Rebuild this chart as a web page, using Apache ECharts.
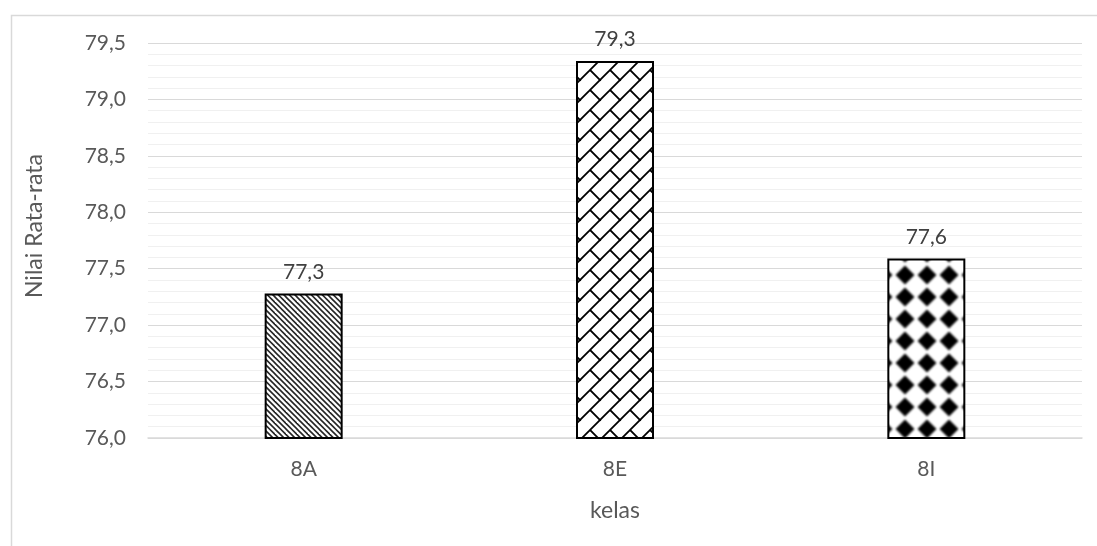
<!DOCTYPE html>
<html>
<head>
<meta charset="utf-8">
<script src="https://cdn.jsdelivr.net/npm/echarts@6/dist/echarts.min.js"></script>
<style>
  html, body { margin: 0; padding: 0; background: #ffffff; }
  #chart { width: 1097px; height: 546px; }
</style>
</head>
<body>
<div id="chart"></div>
<script>
// Class averages
const categories = ['8A', '8E', '8I'];
const averages = [77.28, 79.34, 77.59];
const yTicks = { min: 76, max: 79.5, step: 0.5 };
const xName = 'kelas';
const yName = 'Nilai Rata-rata';

const FONT = 'Lato';
const TEXT = '#595959';

function tile(size, draw) {
  const c = document.createElement('canvas');
  c.width = size; c.height = size;
  const g = c.getContext('2d');
  g.fillStyle = '#ffffff';
  g.fillRect(0, 0, size, size);
  draw(g, size);
  return { image: c, repeat: 'repeat' };
}

// "\" diagonal stripes
const stripes = tile(11, (g, s) => {
  g.strokeStyle = '#262626';
  g.lineWidth = 1.6;
  for (let k = -3; k <= 3; k++) {
    g.beginPath();
    g.moveTo(k * 5.5 - 6, -6);
    g.lineTo(k * 5.5 + s + 6, s + 6);
    g.stroke();
  }
});

// diagonal brick
const brick = tile(20, (g, s) => {
  g.strokeStyle = '#000000';
  g.lineWidth = 1.8;
  g.lineCap = 'square';
  for (const dx of [-s, 0, s]) {
    for (const dy of [-s, 0, s]) {
      g.beginPath();
      g.moveTo(dx, dy + s);
      g.lineTo(dx + s, dy);
      g.moveTo(dx + s / 2, dy + s / 2);
      g.lineTo(dx + s, dy + s);
      g.stroke();
    }
  }
});

// solid diamonds
const diamonds = tile(22, (g, s) => {
  g.fillStyle = '#000000';
  const cx = 3, cy = 11, r = 9.5;
  g.filter = 'blur(0.9px)';
  for (const dx of [-s, 0, s]) {
    for (const dy of [-s, 0, s]) {
      g.beginPath();
      g.moveTo(cx + dx, cy + dy - r);
      g.lineTo(cx + dx + r, cy + dy);
      g.lineTo(cx + dx, cy + dy + r);
      g.lineTo(cx + dx - r, cy + dy);
      g.closePath();
      g.fill();
    }
  }
});

const fills = [stripes, brick, diamonds];
const fmt = v => Number(v).toFixed(1).replace('.', ',');

const chart = echarts.init(document.getElementById('chart'), null, { renderer: 'canvas' });
chart.setOption({
  animation: false,
  backgroundColor: '#ffffff',
  textStyle: { fontFamily: FONT },
  graphic: [{
    type: 'rect',
    left: 9, top: 13,
    shape: { width: 1200, height: 700 },
    style: { fill: 'none', stroke: '#d9d9d9', lineWidth: 1.5 },
    silent: true
  }, {
    type: 'text',
    x: 35, y: 226,
    rotation: Math.PI / 2,
    style: {
      text: yName,
      fill: TEXT,
      font: '23px ' + FONT,
      align: 'center',
      verticalAlign: 'middle'
    },
    silent: true
  }],
  grid: { left: 148, right: 15, top: 43, bottom: 108 },
  xAxis: {
    type: 'category',
    data: categories,
    name: xName,
    nameLocation: 'middle',
    nameGap: 61,
    nameTextStyle: { color: TEXT, fontSize: 23, fontFamily: FONT },
    axisLine: { lineStyle: { color: '#d9d9d9', width: 1.5 } },
    axisTick: { show: false },
    axisLabel: { color: TEXT, fontSize: 21, margin: 21, fontFamily: FONT }
  },
  yAxis: {
    type: 'value',
    min: yTicks.min, max: yTicks.max, interval: yTicks.step,
    axisLine: { show: false },
    axisTick: { show: false },
    axisLabel: { color: TEXT, fontSize: 21, margin: 22, formatter: fmt, fontFamily: FONT },
    splitLine: { lineStyle: { color: '#d9d9d9', width: 1 } },
    minorTick: { show: false, splitNumber: 5 },
    minorSplitLine: { show: true, lineStyle: { color: '#f0f0f0', width: 1 } }
  },
  series: [{
    type: 'bar',
    barWidth: 78,
    data: averages.map((v, i) => ({
      value: v,
      itemStyle: { color: fills[i], borderColor: '#000000', borderWidth: 2 }
    })),
    label: {
      show: true,
      position: 'top',
      distance: 11,
      color: '#404040',
      fontSize: 21,
      fontFamily: FONT,
      formatter: p => fmt(p.value)
    }
  }]
});
</script>
</body>
</html>
